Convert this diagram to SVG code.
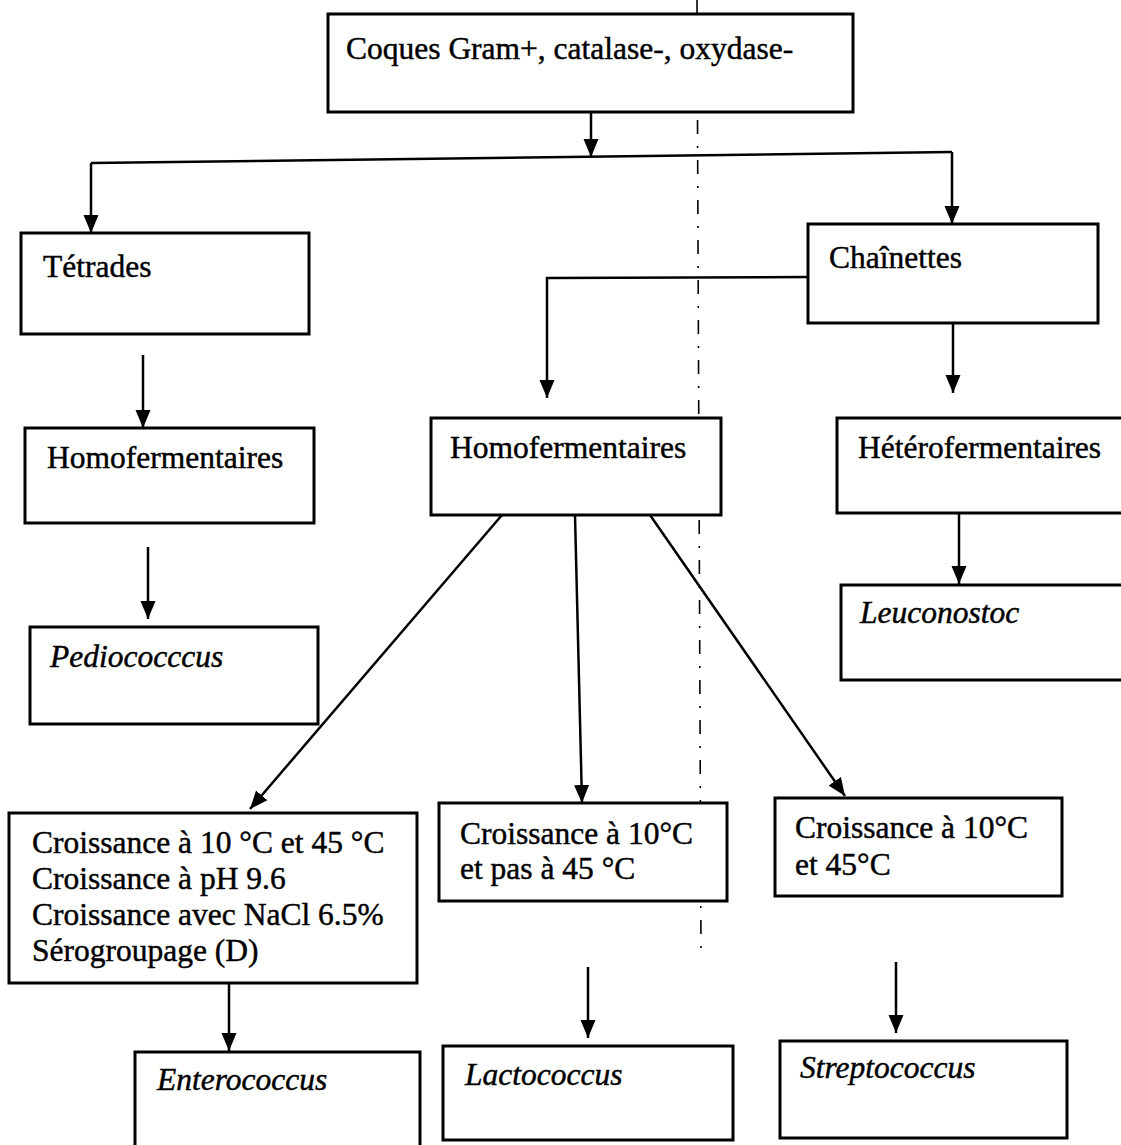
<svg xmlns="http://www.w3.org/2000/svg" width="1121" height="1145" viewBox="0 0 1121 1145">
<style>
.box{fill:#fff;stroke:#000;stroke-width:3}
.t{font-family:"Liberation Serif","Times New Roman",serif;font-size:31.5px;fill:#000;stroke:#000;stroke-width:0.45}
.i{font-style:italic}
.c{fill:none;stroke:#000;stroke-width:2.5}
.a{marker-end:url(#arr)}
.guide{fill:none;stroke:#000;stroke-width:1.6;stroke-dasharray:14 12 2 12}
</style>
<defs>
<marker id="arr" markerUnits="userSpaceOnUse" markerWidth="19" markerHeight="16" refX="18" refY="8" orient="auto">
<path d="M0,0.5 L18,8 L0,15.5 z" fill="#000"/>
</marker>
</defs>
<rect width="1121" height="1145" fill="#fff"/>

<line class="guide" x1="697" y1="0" x2="701" y2="950"/>

<g id="connectors">
<line class="c a" x1="591" y1="112" x2="591" y2="157"/>
<polyline class="c" points="91,163 952,152"/>
<line class="c a" x1="91" y1="163" x2="91" y2="233"/>
<line class="c a" x1="952" y1="152" x2="952" y2="224"/>
<line class="c a" x1="143" y1="355" x2="143" y2="428"/>
<line class="c a" x1="148" y1="547" x2="148" y2="619"/>
<polyline class="c a" points="808,277 547,278 547,398"/>
<line class="c a" x1="953" y1="323" x2="953" y2="393"/>
<line class="c a" x1="959" y1="513" x2="959" y2="584"/>
<line class="c a" x1="502" y1="515" x2="250" y2="809"/>
<line class="c a" x1="575" y1="515" x2="582" y2="803"/>
<line class="c a" x1="650" y1="515" x2="845" y2="796"/>
<line class="c a" x1="229" y1="983" x2="229" y2="1051"/>
<line class="c a" x1="588" y1="967" x2="588" y2="1038"/>
<line class="c a" x1="896" y1="962" x2="896" y2="1033"/>
</g>

<g id="root">
<rect class="box" x="328" y="14" width="525" height="98"/>
<text class="t" x="346" y="59">Coques Gram+, catalase-, oxydase-</text>
</g>

<g id="tetrades">
<rect class="box" x="21" y="233" width="288" height="101"/>
<text class="t" x="43" y="277">Tétrades</text>
</g>

<g id="chainettes">
<rect class="box" x="808" y="224" width="290" height="99"/>
<text class="t" x="829" y="268">Chaînettes</text>
</g>

<g id="homo-tetrades">
<rect class="box" x="25" y="428" width="289" height="95"/>
<text class="t" x="47" y="468">Homofermentaires</text>
</g>

<g id="pediococcus">
<rect class="box" x="30" y="627" width="288" height="97"/>
<text class="t i" x="50" y="667">Pediococccus</text>
</g>

<g id="homo-chainettes">
<rect class="box" x="431" y="418" width="290" height="97"/>
<text class="t" x="450" y="458">Homofermentaires</text>
</g>

<g id="hetero">
<rect class="box" x="837" y="418" width="290" height="95"/>
<text class="t" x="858" y="458">Hétérofermentaires</text>
</g>

<g id="leuconostoc">
<rect class="box" x="841" y="585" width="286" height="95"/>
<text class="t i" x="860" y="623">Leuconostoc</text>
</g>

<g id="crit-entero">
<rect class="box" x="9" y="813" width="408" height="170"/>
<text class="t" x="32" y="853">Croissance à 10 °C et 45 °C</text>
<text class="t" x="32" y="889">Croissance à pH 9.6</text>
<text class="t" x="32" y="925">Croissance avec NaCl 6.5%</text>
<text class="t" x="32" y="961">Sérogroupage (D)</text>
</g>

<g id="crit-lacto">
<rect class="box" x="439" y="803" width="288" height="98"/>
<text class="t" x="460" y="844">Croissance à 10°C</text>
<text class="t" x="460" y="879">et pas à 45 °C</text>
</g>

<g id="crit-strepto">
<rect class="box" x="775" y="798" width="287" height="98"/>
<text class="t" x="795" y="838">Croissance à 10°C</text>
<text class="t" x="795" y="875">et 45°C</text>
</g>

<g id="enterococcus">
<path class="box" d="M135,1160 L135,1052 L420,1052 L420,1160"/>
<text class="t i" x="157" y="1090">Enterococcus</text>
</g>

<g id="lactococcus">
<rect class="box" x="443" y="1046" width="290" height="94"/>
<text class="t i" x="465" y="1085">Lactococcus</text>
</g>

<g id="streptococcus">
<rect class="box" x="780" y="1041" width="287" height="97"/>
<text class="t i" x="800" y="1078">Streptococcus</text>
</g>
</svg>
